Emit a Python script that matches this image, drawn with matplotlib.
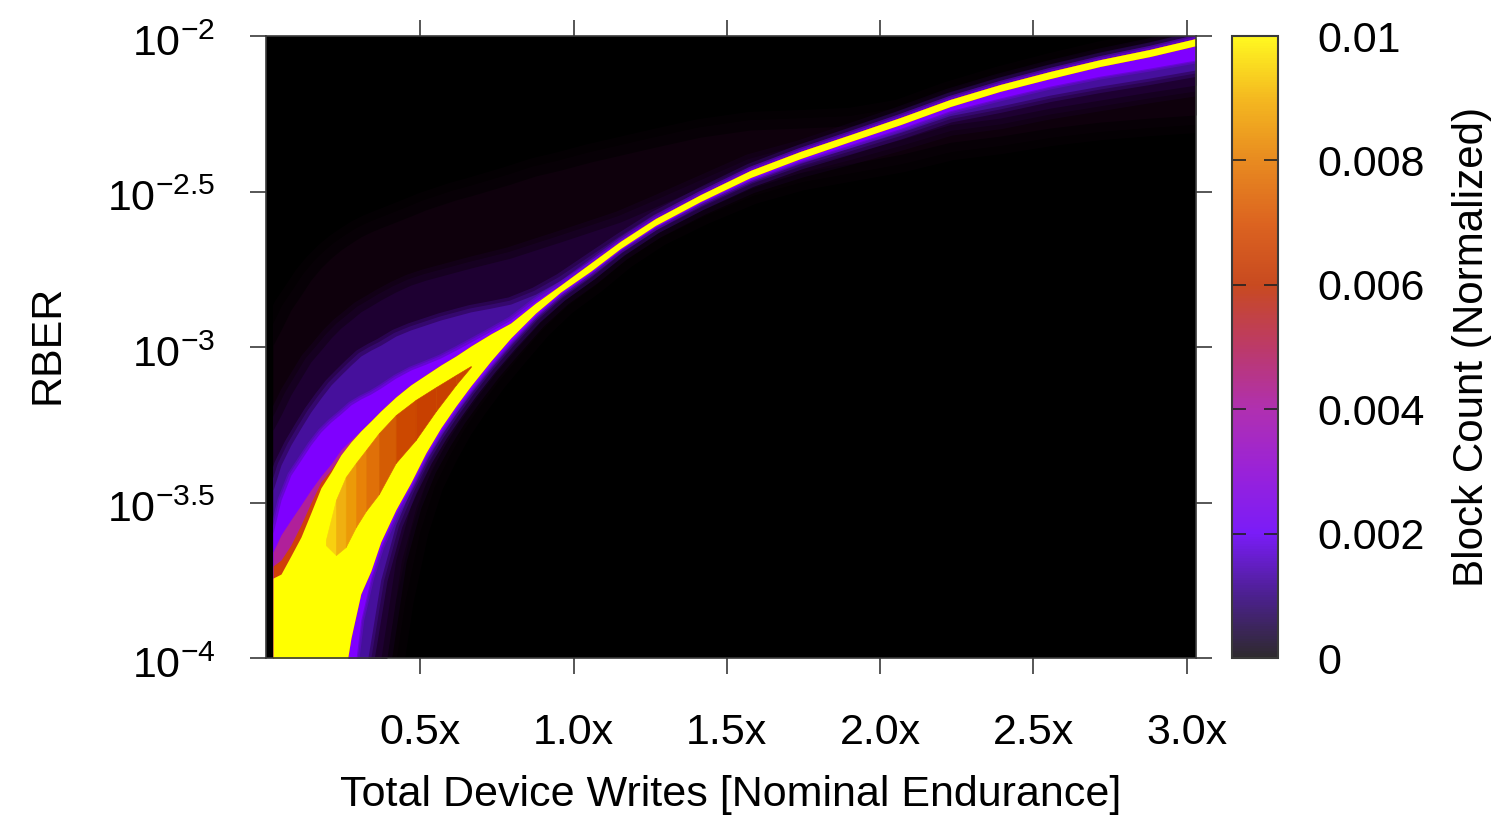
import matplotlib
matplotlib.use("Agg")
import matplotlib.pyplot as plot
from matplotlib.cm import ScalarMappable
from matplotlib.colors import LinearSegmentedColormap, Normalize
from matplotlib.patches import Rectangle
from matplotlib.transforms import ScaledTranslation
import numpy

# columns of the heatmap, in multiples of nominal endurance
writes = [0.020, 0.046, 0.078, 0.111, 0.143, 0.176, 0.209, 0.241, 0.274, 0.306, 0.339, 0.371,
          0.420, 0.469, 0.518, 0.567, 0.616, 0.665, 0.730, 0.795, 0.876, 0.958, 1.056, 1.153,
          1.267, 1.414, 1.577, 1.740, 1.903, 2.066, 2.228, 2.391, 2.554, 2.717, 2.880, 3.030]

# log10(RBER) of the band edges, read column by column
yellow_top = [-3.743, -3.730, -3.672, -3.611, -3.534, -3.453, -3.402, -3.347, -3.305, -3.270, -3.238, -3.206,
              -3.161, -3.122, -3.090, -3.058, -3.029, -2.997, -2.958, -2.923, -2.859, -2.801, -2.730, -2.660,
              -2.587, -2.510, -2.432, -2.371, -2.317, -2.262, -2.204, -2.156, -2.114, -2.076, -2.043, -2.008]
yellow_bottom = [-3.936, -3.794, -3.720, -3.627, -3.524, -3.437, -3.341, -3.260, -3.190, -3.125, -3.045, -2.971,
                 -2.891, -2.823, -2.756, -2.683, -2.609, -2.532, -2.455, -2.394, -2.339, -2.285, -2.227, -2.178,
                 -2.137, -2.098, -2.066, -2.031]

red_top = [-3.704, -3.685, -3.637, -3.572, -3.502, -3.434, -3.395]
magenta_top = [-3.659, -3.604, -3.556, -3.508, -3.460, -3.415, -3.376, -3.331, -3.299]
purple_top = [-3.598, -3.492, -3.412, -3.363, -3.315, -3.273, -3.241, -3.215, -3.186, -3.167, -3.151, -3.132,
              -3.100, -3.074, -3.055, -3.035, -3.010, -2.984, -2.949, -2.913, -2.852]
violet_top = [-3.460, -3.379, -3.315, -3.260, -3.209, -3.164, -3.122, -3.090, -3.058, -3.029, -3.010, -2.994,
              -2.965, -2.945, -2.929, -2.913, -2.900, -2.887, -2.875, -2.862, -2.830, -2.785, -2.720, -2.656,
              -2.585]
dark_top = [-3.267, -3.219, -3.154, -3.100, -3.048, -3.010, -2.971, -2.939, -2.913, -2.887, -2.868, -2.849,
            -2.823, -2.801, -2.785, -2.772, -2.759, -2.746, -2.730, -2.714, -2.688, -2.662, -2.630, -2.598,
            -2.550, -2.486, -2.415]
faint_top = [-2.994, -2.945, -2.881, -2.833, -2.785, -2.746, -2.714, -2.688, -2.666, -2.646, -2.630, -2.617,
             -2.598, -2.579, -2.559, -2.543, -2.527, -2.514, -2.495, -2.476, -2.450, -2.431, -2.405, -2.383,
             -2.357, -2.325, -2.302, -2.296, -2.289]

purple_bottom = [-3.878, -3.740, -3.643, -3.534, -3.447, -3.350, -3.270, -3.199, -3.135, -3.055, -2.981, -2.897,
                 -2.828, -2.760, -2.686, -2.613, -2.535, -2.460, -2.400, -2.349, -2.297, -2.240, -2.199, -2.161,
                 -2.129, -2.103, -2.077]
violet_bottom = [-3.942, -3.749, -3.572, -3.460, -3.363, -3.283, -3.212, -3.145, -3.064, -2.990, -2.904, -2.833,
                 -2.764, -2.688, -2.614, -2.539, -2.465, -2.407, -2.359, -2.310, -2.256, -2.225, -2.190, -2.161,
                 -2.135, -2.109]
dark_bottom = [-4.006, -3.685, -3.508, -3.389, -3.302, -3.225, -3.158, -3.074, -3.000, -2.910, -2.836, -2.767,
               -2.689, -2.616, -2.542, -2.471, -2.420, -2.378, -2.333, -2.285, -2.264, -2.232, -2.206, -2.180,
               -2.158]
faint_bottom = [-3.813, -3.588, -3.437, -3.338, -3.251, -3.180, -3.093, -3.016, -2.923, -2.846, -2.775, -2.696,
                -2.622, -2.551, -2.484, -2.439, -2.410, -2.381, -2.342, -2.322, -2.296, -2.277, -2.264, -2.254]

# the wedge inside the fork
wedge_writes = [0.192, 0.225, 0.257, 0.290, 0.323, 0.365, 0.420, 0.485, 0.551, 0.616, 0.665]
wedge_top = [-3.621, -3.492, -3.418, -3.373, -3.331, -3.277, -3.219, -3.170, -3.129, -3.090, -3.061]
wedge_bottom = [-3.637, -3.669, -3.643, -3.579, -3.527, -3.473, -3.373, -3.299, -3.206, -3.122, -3.064]
wedge_colors = ["#f8d010", "#f0b010", "#ec9a08", "#e88208", "#e07008", "#d45c04",
                "#cc4800", "#c84000", "#c84000", "#c84400"]

x_ticks = [0.5, 1.0, 1.5, 2.0, 2.5, 3.0]
x_labels = ["0.5x", "1.0x", "1.5x", "2.0x", "2.5x", "3.0x"]
y_ticks = [-4, -3.5, -3, -2.5, -2]
y_labels = ["$10^{-4}$", "$10^{-3.5}$", "$10^{-3}$", "$10^{-2.5}$", "$10^{-2}$"]
bar_ticks = [0, 0.002, 0.004, 0.006, 0.008, 0.01]
bar_labels = ["0", "0.002", "0.004", "0.006", "0.008", "0.01"]
bar_colors = ["#2e2a2e", "#4c2090", "#7a1cf8", "#9a22d8", "#b030b0", "#bc3a68",
              "#c84a20", "#dc6420", "#e88a20", "#f4b820", "#fff820"]

plot.rcParams["font.family"] = ["Liberation Sans", "DejaVu Sans"]
plot.rcParams["mathtext.fontset"] = "custom"
plot.rcParams["mathtext.rm"] = "Liberation Sans"
plot.rcParams["mathtext.default"] = "regular"
plot.rcParams["font.size"] = 31

LINE = "#3a3a3a"
BOTTOM = -4.135


def band(axis, top, bottom, color, soft=()):
    # short top lists join the yellow ridge on the right, short bottom lists run off the axis on the left
    n = len(writes)
    upper = 10.0 ** numpy.array(top + yellow_top[len(top):])
    lower = 10.0 ** numpy.array([BOTTOM] * (n - len(bottom)) + bottom)
    # wide see-through outlines fade the edge of the band into the one below
    for width, alpha in soft:
        edge = axis.fill_between(writes, upper, lower, facecolor="none", edgecolor=color,
                                 linewidth=width, alpha=alpha)
        edge.set_clip_path(Rectangle((writes[0], 1e-4), writes[-1] - writes[0], 1e-2 - 1e-4,
                                     transform=axis.transData))
    axis.fill_between(writes, upper, lower, color=color, linewidth=0)


fig = plot.figure(figsize=(15.12, 8.17), dpi=100)
axis = fig.add_axes([266 / 1512, 159 / 817, 930 / 1512, 622 / 817], facecolor="black")
axis.set_yscale("log")
axis.set_xlim(-0.003, 3.03)
axis.set_ylim(1e-4, 1e-2)

band(axis, faint_top, faint_bottom, "#0e000c", soft=((26, 0.3), (14, 0.4)))
band(axis, dark_top, dark_bottom, "#1e0032", soft=((16, 0.3), (9, 0.4)))
band(axis, violet_top, violet_bottom, "#46109c", soft=((10, 0.3), (5, 0.4)))
band(axis, purple_top, purple_bottom, "#7f00ff", soft=((5, 0.3), (2.5, 0.4)))
band(axis, magenta_top, yellow_bottom, "#b0209a")
band(axis, red_top, yellow_bottom, "#d04008")
band(axis, yellow_top, yellow_bottom, "#ffff00")

for i, color in enumerate(wedge_colors):
    axis.fill_between(wedge_writes[i:i + 2], 10.0 ** numpy.array(wedge_top[i:i + 2]),
                      10.0 ** numpy.array(wedge_bottom[i:i + 2]), color=color, linewidth=0.4)

axis.set_xticks(x_ticks)
axis.set_xticklabels(x_labels)
axis.set_yticks([10.0 ** v for v in y_ticks])
axis.set_yticklabels(y_labels)
axis.minorticks_off()
axis.tick_params(direction="out", length=11.5, width=1.2, color=LINE,
                 top=True, right=True, bottom=True, left=True)
axis.tick_params(axis="x", pad=28)
axis.tick_params(axis="y", pad=25)
for label in axis.get_yticklabels():
    label.set_transform(label.get_transform() + ScaledTranslation(0, -4 / 100, fig.dpi_scale_trans))
for spine in axis.spines.values():
    spine.set_color(LINE)
    spine.set_linewidth(1.2)
fig.text(731 / 1512, 1 - 795 / 817, "Total Device Writes [Nominal Endurance]", ha="center", va="center")
fig.text(48 / 1512, 1 - 344 / 817, "RBER", rotation=90, ha="center", va="center")

cax = fig.add_axes([1232 / 1512, 159 / 817, 46 / 1512, 622 / 817])
cmap = LinearSegmentedColormap.from_list("bar", bar_colors, N=256)
bar = fig.colorbar(ScalarMappable(norm=Normalize(0, 0.01), cmap=cmap), cax=cax)
bar.set_ticks(bar_ticks)
bar.set_ticklabels(bar_labels)
cax.tick_params(direction="in", length=10, width=1.2, color="#222222", left=True, right=True, pad=28)
bar.outline.set_edgecolor(LINE)
bar.outline.set_linewidth(1.5)
fig.text(1472 / 1512, 1 - 347 / 817, "Block Count (Normalized)", rotation=90, ha="center", va="center",
         fontsize=30.3)

fig.savefig("out.png", dpi=100)
